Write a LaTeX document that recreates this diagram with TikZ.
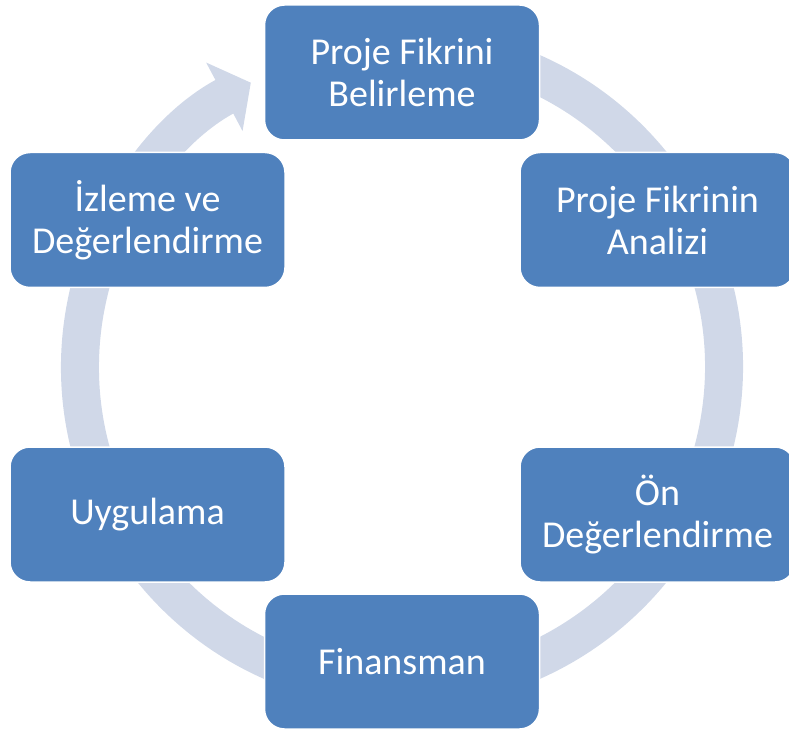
\documentclass[tikz,border=0pt]{standalone}
\usepackage{fontspec}
\setmainfont{Carlito}
\usetikzlibrary{arrows.meta}

\definecolor{stageblue}{HTML}{4F81BD}
\definecolor{ringblue}{HTML}{D0D8E8}

\begin{document}
\begin{tikzpicture}[x=1pt,y=1pt,%
  stage/.style={rectangle,rounded corners=20pt,fill=stageblue,%
    draw=white,line width=1.5pt,minimum width=275pt,minimum height=135pt,%
    inner sep=0pt,align=center,text=white,%
    font=\fontsize{38}{42}\selectfont},%
  ring/.style={draw=ringblue,line width=38pt,%
    -{Triangle[width=76pt,length=30pt]}}]
  \clip (0,0) rectangle (789,729);
  \coordinate (c) at (402,362);

  % cycle arrow behind the stages
  \draw[ring] ([shift={(80:322)}]c) arc[start angle=80,end angle=-242,radius=322];

  \node[stage] (belirle) at ([shift={(0,294.5)}]c)       {Proje Fikrini\\Belirleme};
  \node[stage] (analiz)  at ([shift={(255.5,147)}]c)     {Proje Fikrinin\\Analizi};
  \node[stage] (onDeg)   at ([shift={(255.5,-147.5)}]c)  {Ön\\Değerlendirme};
  \node[stage] (finans)  at ([shift={(0,-294.5)}]c)      {Finansman};
  \node[stage] (uygula)  at ([shift={(-254.5,-147.5)}]c) {Uygulama};
  \node[stage] (izleme)  at ([shift={(-254.5,147)}]c)    {İzleme ve\\Değerlendirme};
\end{tikzpicture}
\end{document}
